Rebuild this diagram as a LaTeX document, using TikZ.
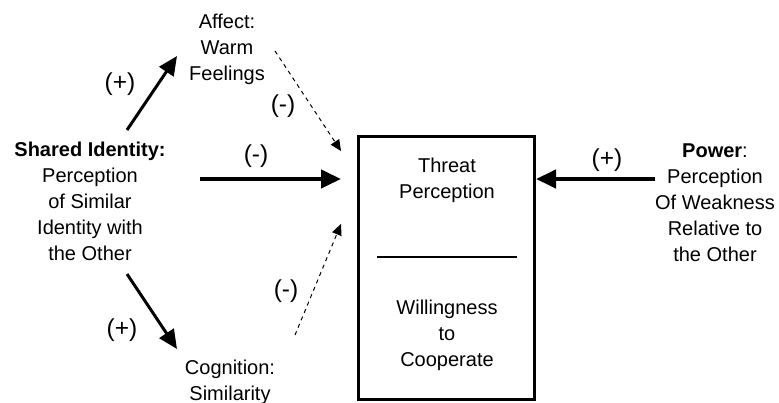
\documentclass[tikz,border=0pt]{standalone}
\usepackage{fontspec}
\setmainfont{Liberation Sans}
\usetikzlibrary{arrows.meta}
\begin{document}
\begin{tikzpicture}[x=1pt,y=-1pt,
  txt/.style={align=center,inner sep=0pt,font=\fontsize{20}{26}\selectfont},
  sign/.style={inner sep=0pt,font=\fontsize{24.5}{26}\selectfont},
  solidarrow/.style={line width=3pt,-{Triangle[length=19pt,width=17pt]}},
  thickarrow/.style={line width=4.2pt,-{Triangle[length=20pt,width=18pt]}},
  dasharrow/.style={line width=1pt,dash pattern=on 4pt off 4pt,-{Triangle[length=11pt,width=10pt]}}]
\useasboundingbox (0,0) rectangle (779,403);
% box
\node[draw,line width=3pt,minimum width=176pt,minimum height=262pt,inner sep=0pt] (box) at (446,268) {};
\coordinate (divl) at (377,257);
\coordinate (divr) at (517,257);
\draw[line width=2pt] (divl) -- (divr);
\node[txt] (threat) at (447,180) {Threat\\Perception};
\node[txt] (will) at (447,335) {Willingness\\to\\Cooperate};
% text nodes
\node[txt] (shared) at (90,201) {\textbf{Shared Identity:}\\Perception\\of Similar\\Identity with\\the Other};
\node[txt] (affect) at (227,49) {Affect:\\Warm\\Feelings};
\node[txt] (cog) at (230,382) {Cognition:\\Similarity};
\node[txt] (power) at (715,203) {\textbf{Power}:\\Perception\\Of Weakness\\Relative to\\the Other};
% endpoints
\coordinate (s1) at (127,130);
\coordinate (e1) at (177,56);
\coordinate (s2) at (200,179);
\coordinate (e2) at (341,179);
\coordinate (s3) at (127,274);
\coordinate (e3) at (177,349);
\coordinate (s4) at (275,51);
\coordinate (e4) at (341,151);
\coordinate (s5) at (295,335);
\coordinate (e5) at (341,224);
\coordinate (s6) at (655,179);
\coordinate (e6) at (536,179);
% connectors
\draw[solidarrow] (s1) -- (e1);
\draw[thickarrow] (s2) -- (e2);
\draw[solidarrow] (s3) -- (e3);
\draw[dasharrow] (s4) -- (e4);
\draw[dasharrow] (s5) -- (e5);
\draw[thickarrow] (s6) -- (e6);
% signs
\node[sign] (p1) at (120,84) {(+)};
\node[sign] (m2) at (256,156) {(-)};
\node[sign] (p3) at (122,330) {(+)};
\node[sign] (m4) at (283,106) {(-)};
\node[sign] (m5) at (286,291) {(-)};
\node[sign] (p6) at (607,160) {(+)};
\end{tikzpicture}
\end{document}
